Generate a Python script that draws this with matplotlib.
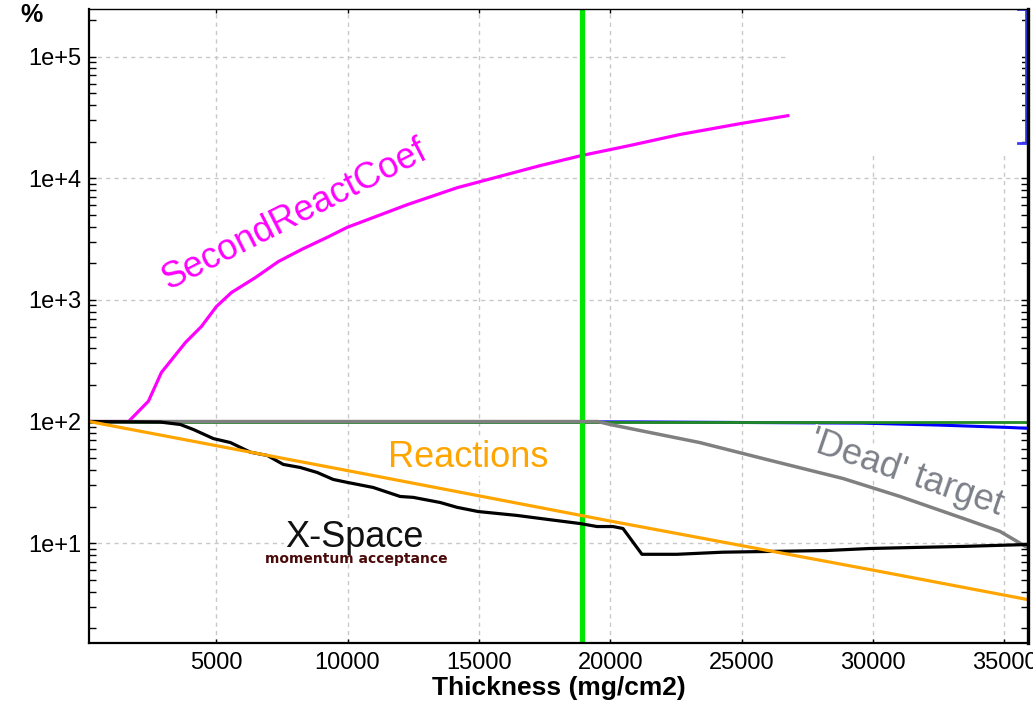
import matplotlib.pyplot as plt
from matplotlib.patches import Rectangle
from matplotlib.ticker import NullFormatter

plt.rcParams['font.family'] = ['Liberation Sans', 'DejaVu Sans']

# thickness (mg/cm2) vs %
second_x = [170, 1665, 2422, 2916, 3829, 4437, 5008, 5578, 6491, 7365, 8240, 9266, 9989,
            12270, 14171, 17327, 18924, 20749, 22650, 24932, 26757]
second_y = [100, 100, 147, 253, 446, 604, 881, 1148, 1525, 2065, 2590, 3300, 3950,
            6063, 8360, 12700, 15400, 18600, 22900, 28100, 32700]

dead_x = [170, 19530, 20000, 23400, 25960, 28860, 31030, 33570, 34830, 35880]
dead_y = [100, 100, 94.5, 67.2, 48.7, 34.0, 24.2, 15.6, 12.5, 9.2]

xspace_x = [170, 2878, 3639, 4133, 4894, 5540, 6300, 6947, 7555, 8202, 8848, 9456, 9989,
            10977, 12004, 12498, 13525, 14171, 14970, 16452, 17593, 18848, 19494, 20103,
            20483, 21205, 22536, 24285, 28240, 29874, 31586, 33410, 35880]
xspace_y = [100, 99, 94.5, 86, 72.4, 67.2, 56, 52.6, 44.4, 41.9, 38.1, 33.4, 31.6,
            28.7, 24.2, 23.8, 21.6, 19.7, 18.2, 16.9, 15.7, 14.5, 13.7, 13.7,
            13.2, 8.1, 8.1, 8.43, 8.7, 9.04, 9.22, 9.4, 9.75]

react_x = [170, 10000, 20000, 30000, 35880]
react_y = [100, 39.5, 15.2, 6.0, 3.44]

blue_x = [170, 21000, 29600, 32500, 35100, 35880]
blue_y = [100, 99.3, 97, 93.5, 89.5, 88]

green_x = [170, 35880]
green_y = [100, 100]

bracket_x = [35500, 35820, 35820, 35500]
bracket_y = [245000, 245000, 19600, 19600]

cut_thickness = 18920

x_ticks = [5000, 10000, 15000, 20000, 25000, 30000, 35000]
y_ticks = [1e1, 1e2, 1e3, 1e4, 1e5]
y_labels = ['1e+1', '1e+2', '1e+3', '1e+4', '1e+5']

fig = plt.figure(figsize=(10.33, 7.04), dpi=100)
ax = fig.add_axes([0.0864, 0.0871, 0.9083, 0.8997])

ax.set_yscale('log')
ax.set_xlim(170, 35880)
ax.set_ylim(1.52, 2.45e5)

ax.plot(blue_x, blue_y, color='#0000ff', lw=2.2, zorder=2)
ax.plot(green_x, green_y, color='#228b22', lw=2.0, zorder=2.05)
ax.plot(bracket_x, bracket_y, color='#3a3aff', lw=2.0, zorder=2)
ax.plot(second_x, second_y, color='#ff00ff', lw=2.3, zorder=2.1)
ax.axvline(cut_thickness, color='#00e600', lw=3.8, zorder=2.2)
ax.plot(dead_x, dead_y, color='#808080', lw=2.5, zorder=2.3)
ax.plot(xspace_x, xspace_y, color='black', lw=2.3, zorder=2.4)
ax.plot(react_x, react_y, color='#ffa500', lw=2.3, zorder=2.5)

# blank area in the upper right corner
ax.add_patch(Rectangle((0.745, 0.7737), 0.249, 0.2263, transform=ax.transAxes,
                       facecolor='white', edgecolor='none', zorder=1.8))

box = dict(facecolor='white', edgecolor='none', pad=1)
ax.text(7995, 5000, 'SecondReactCoef', color='#ff00ff', fontsize=26, rotation=27,
        ha='center', va='center', rotation_mode='anchor', bbox=box, zorder=1.9)
ax.text(14581, 50.6, 'Reactions', color='#ffa500', fontsize=26,
        ha='center', va='center', bbox=box, zorder=1.9)
ax.text(10279, 9.38, 'X-Space', color='#111111', fontsize=26,
        ha='center', va='baseline', bbox=box, zorder=1.9)
ax.text(10317, 6.81, 'momentum acceptance', color='#4a0a0a', fontsize=10,
        fontweight='bold', family='DejaVu Sans', ha='center', va='baseline', zorder=1.9)
ax.text(31250, 37.5, "'Dead' target", color='#7c8088', fontsize=26, rotation=-19,
        ha='center', va='center', rotation_mode='anchor',
        bbox=dict(facecolor='white', edgecolor='none', pad=0), zorder=3)

ax.set_xticks(x_ticks, [str(t) for t in x_ticks])
ax.set_yticks(y_ticks, y_labels)
ax.yaxis.set_minor_formatter(NullFormatter())

ax.tick_params(axis='y', which='both', direction='in', right=True, length=5, width=1,
               labelsize=17, pad=6)
ax.tick_params(axis='x', which='both', direction='in', top=True, length=3, width=1,
               labelsize=17, pad=7)

ax.grid(True, which='major', color='#c8c8c8', linestyle=(0, (3, 3)), linewidth=1)

for side, w in [('left', 1.6), ('bottom', 1.6), ('top', 1.0), ('right', 2.4)]:
    ax.spines[side].set_linewidth(w)

ax.set_xlabel('Thickness (mg/cm2)', fontsize=19, fontweight='bold', labelpad=1)
fig.text(20 / 1033, 1 - 15 / 704, '%', fontsize=18, fontweight='bold',
         ha='left', va='center')

fig.savefig('out.png', dpi=100)
